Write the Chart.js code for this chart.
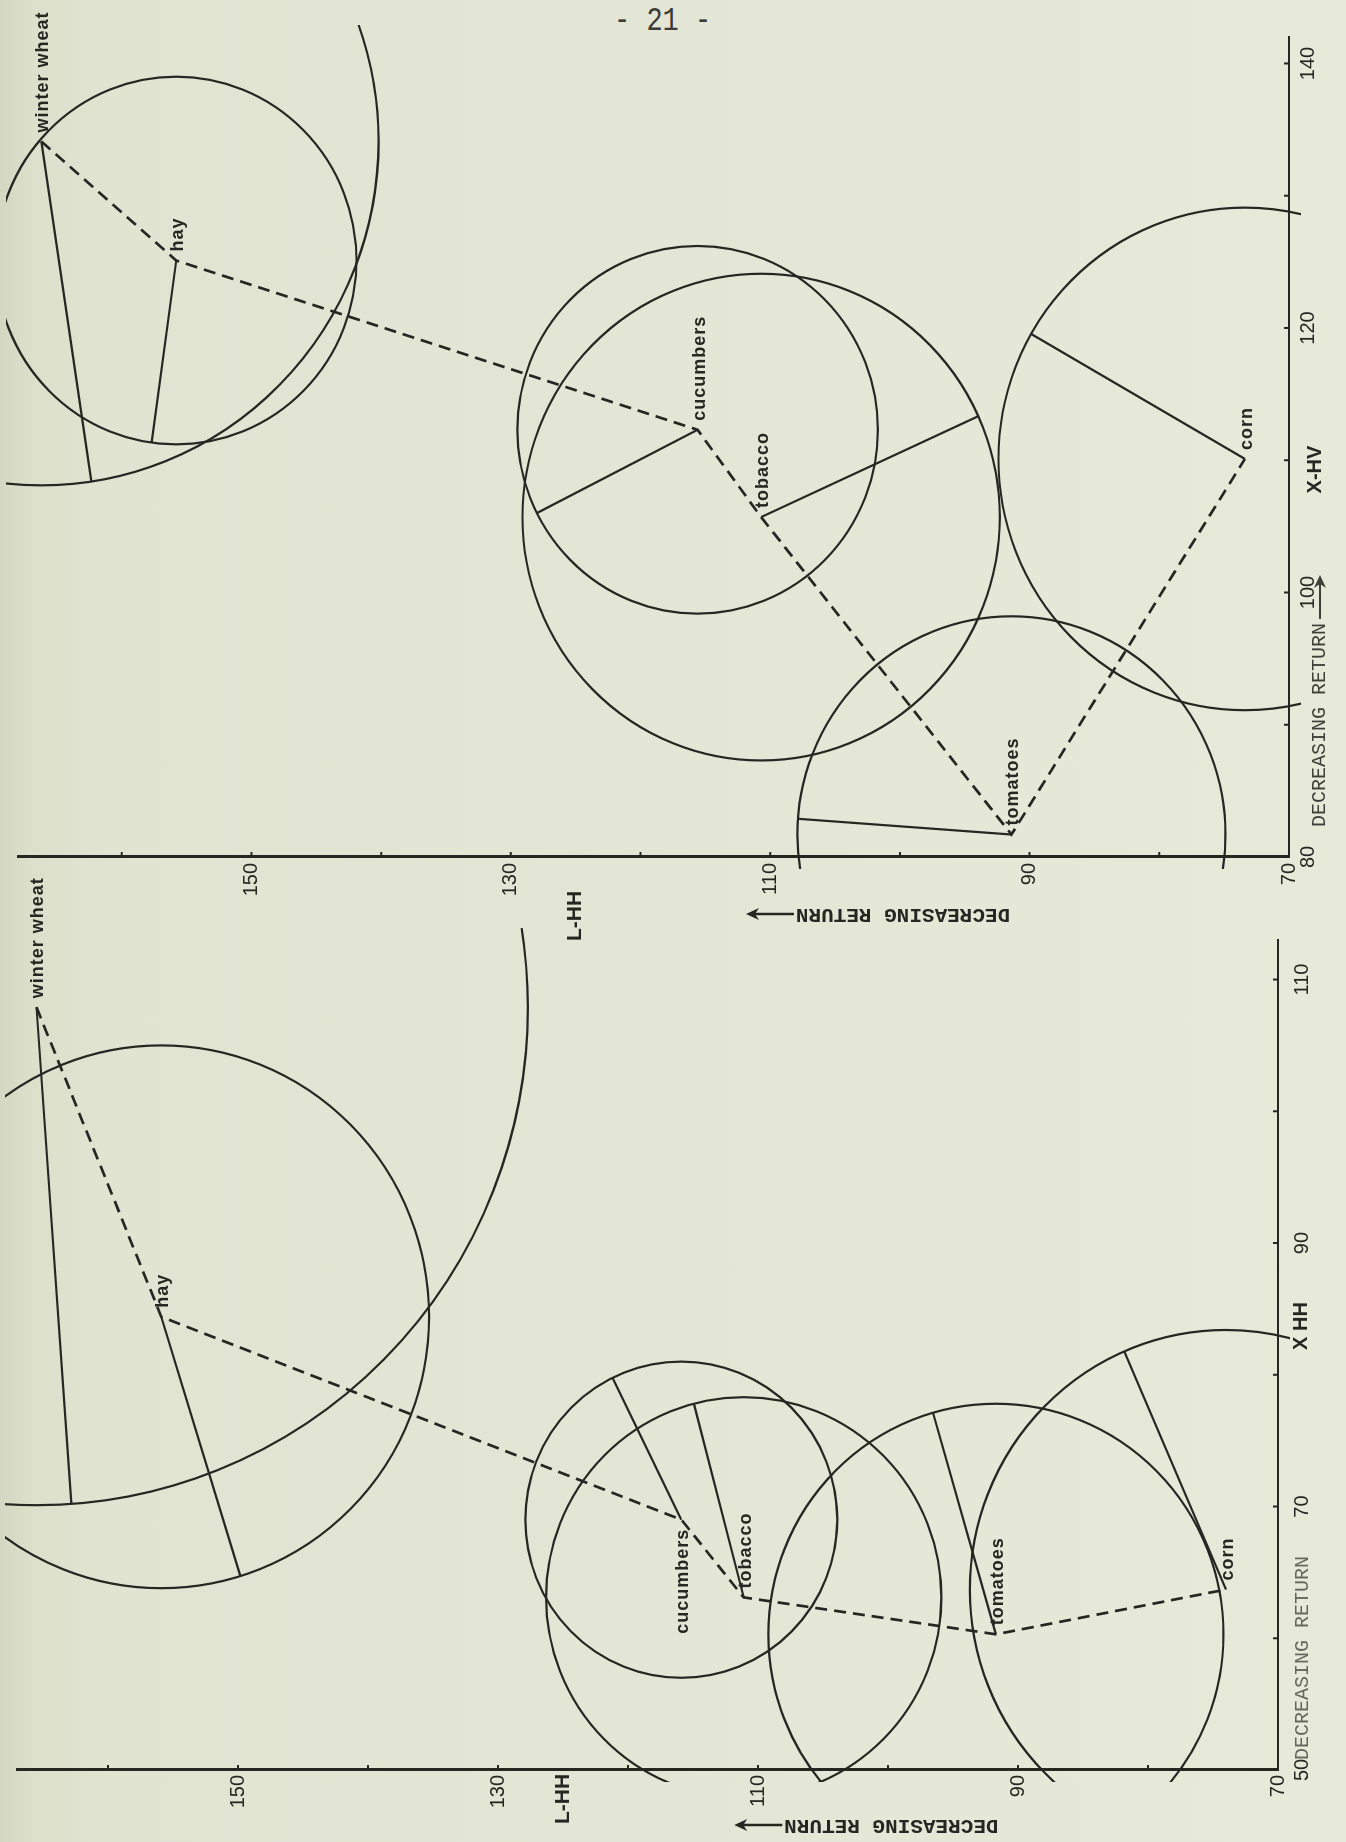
<!DOCTYPE html>
<html>
<head>
<meta charset="utf-8">
<title>Crop returns</title>
<script src="https://cdn.jsdelivr.net/npm/chart.js@4.4.1/dist/chart.umd.min.js"></script>
<style>
  html, body { margin: 0; padding: 0; }
  body {
    width: 1346px; height: 1842px; position: relative; overflow: hidden;
    background: linear-gradient(to right, #d4d8c2 0px, #dcdfca 30px, #e1e4d1 110px, #e4e6d5 600px, #e7e9d9 1346px);
  }
  #pageNo {
    position: absolute; left: 614px; top: 6px;
    font: 27px/1 "Liberation Mono", monospace; color: #3b3b37;
    transform: scaleY(1.2); transform-origin: 0 0; white-space: pre;
  }
  .panel { position: absolute; left: 0; height: 1346px; transform-origin: 0 0; }
  .panel canvas { display: block; }
</style>
</head>
<body>
<div id="pageNo">- 21 -</div>
<div class="panel" style="top:0; width:965px; transform: translateY(965px) rotate(-90deg);">
  <canvas id="hvChart" width="965" height="1346"></canvas>
</div>
<div class="panel" style="top:855px; width:987px; transform: translateY(987px) rotate(-90deg);">
  <canvas id="hhChart" width="987" height="1346"></canvas>
</div>
<script>
const crops = ['winter wheat', 'hay', 'cucumbers', 'tobacco', 'tomatoes', 'corn'];

// X-HV against L-HH
const hvX = [134.1, 125.1, 112.3, 105.7, 81.7, 110.1];
const hvY = [166.2, 155.8, 115.6, 110.7, 91.4, 73.4];
const hvRadius = [26.0, 13.9, 13.9, 18.4, 16.5, 19.0];
const hvSpokeX = [108.8, 111.3, 106.0, 113.4, 82.9, 119.5];
const hvSpokeY = [162.4, 157.7, 128.0, 93.8, 108.0, 89.8];

// X HH against L-HH
const hhX = [107.9, 84.4, 69.0, 63.1, 60.3, 63.7];
const hhY = [165.5, 155.9, 115.9, 111.1, 91.7, 74.0];
const hhRadius = [37.8, 20.6, 12.0, 15.2, 17.5, 19.7];
const hhSpokeX = [70.0, 65.0, 79.4, 77.7, 77.0, 81.7];
const hhSpokeY = [162.8, 149.9, 121.0, 114.9, 96.5, 81.8];

const hvTickLabels = [80, 100, 120, 140];
const hhTickLabels = [50, 70, 90, 110];
const lhhTickLabels = [70, 90, 110, 130, 150];

const INK = '#262623';
const SANS = '"Liberation Sans", Arial, sans-serif';
const MONO = '"Liberation Mono", "Courier New", monospace';

Chart.defaults.font.family = SANS;
Chart.defaults.font.size = 20;
Chart.defaults.color = INK;

function arrow(ctx, x1, y1, x2, y2) {
  const ang = Math.atan2(y2 - y1, x2 - x1);
  ctx.beginPath();
  ctx.moveTo(x1, y1);
  ctx.lineTo(x2 - 8 * Math.cos(ang), y2 - 8 * Math.sin(ang));
  ctx.stroke();
  ctx.beginPath();
  ctx.moveTo(x2, y2);
  ctx.lineTo(x2 - 13 * Math.cos(ang) + 6 * Math.sin(ang), y2 - 13 * Math.sin(ang) - 6 * Math.cos(ang));
  ctx.lineTo(x2 - 9 * Math.cos(ang), y2 - 9 * Math.sin(ang));
  ctx.lineTo(x2 - 13 * Math.cos(ang) - 6 * Math.sin(ang), y2 - 13 * Math.sin(ang) + 6 * Math.cos(ang));
  ctx.closePath();
  ctx.fill();
}

function makePanel(canvasId, p) {
  const path = p.xs.map((x, i) => ({ x: x, y: p.ys[i] }));

  // radius line from each crop to its own circle
  const spokes = p.xs.map((x, i) => {
    const dx = p.spokeX[i] - x, dy = p.spokeY[i] - p.ys[i];
    const k = p.radius[i] / Math.hypot(dx, dy);
    return {
      data: [{ x: x, y: p.ys[i] }, { x: x + dx * k, y: p.ys[i] + dy * k }],
      showLine: true, borderColor: INK, borderWidth: 2.2, pointRadius: 0
    };
  });

  const circles = {
    id: 'circles',
    beforeDatasetsDraw(chart) {
      const { ctx, chartArea: a, scales: { x, y } } = chart;
      const pad = 12;
      ctx.save();
      ctx.beginPath();
      ctx.rect(a.left - pad, a.top - pad, a.right - a.left + 2 * pad, a.bottom - a.top + 2 * pad);
      ctx.clip();
      ctx.strokeStyle = INK;
      ctx.lineWidth = 2.2;
      p.xs.forEach((cx, i) => {
        const px = x.getPixelForValue(cx), py = y.getPixelForValue(p.ys[i]);
        const rx = Math.abs(x.getPixelForValue(cx + p.radius[i]) - px);
        const ry = Math.abs(y.getPixelForValue(p.ys[i] + p.radius[i]) - py);
        ctx.beginPath();
        ctx.ellipse(px, py, rx, ry, 0, 0, Math.PI * 2);
        ctx.stroke();
      });
      ctx.restore();
    }
  };

  const notes = {
    id: 'notes',
    afterDraw(chart) {
      const { ctx, chartArea: a, scales: { x, y } } = chart;
      ctx.save();
      ctx.strokeStyle = INK;
      ctx.fillStyle = INK;

      // small ticks every 10 units, inside the axes
      ctx.lineWidth = 2;
      ctx.beginPath();
      for (let v = p.xMin; v <= p.xMax; v += 10) {
        const px = x.getPixelForValue(v);
        ctx.moveTo(px, a.bottom); ctx.lineTo(px, a.bottom - 5);
      }
      for (let v = p.yMin; v <= p.yMax; v += 10) {
        const py = y.getPixelForValue(v);
        ctx.moveTo(a.left, py); ctx.lineTo(a.left + 5, py);
      }
      ctx.stroke();

      // crop names
      ctx.font = 'bold 18px ' + SANS;
      ctx.letterSpacing = '1px';
      ctx.textBaseline = 'middle';
      crops.forEach((name, i) => {
        const px = x.getPixelForValue(p.xs[i]), py = y.getPixelForValue(p.ys[i]);
        const before = p.labelSide[i] === 'left';
        ctx.textAlign = before ? 'right' : 'left';
        ctx.fillText(name, px + (before ? -9 : 9), py + 2);
      });
      ctx.letterSpacing = '0px';

      // x axis name and note
      ctx.font = 'bold 20px ' + SANS;
      ctx.textAlign = 'center';
      ctx.textBaseline = 'top';
      ctx.fillText(p.xTitle, x.getPixelForValue(p.xTitleAt), a.bottom + p.xTitleGap);

      ctx.font = '20px ' + MONO;
      ctx.textAlign = 'left';
      ctx.textBaseline = 'middle';
      ctx.fillStyle = p.xNoteColor;
      ctx.strokeStyle = p.xNoteColor;
      const nx = a.left + p.xNoteStart, ny = a.bottom + p.xNoteGap;
      ctx.fillText('DECREASING RETURN', nx, ny);
      if (p.xNoteArrow) {
        const w = ctx.measureText('DECREASING RETURN').width;
        ctx.lineWidth = 2;
        arrow(ctx, nx + w + 4, ny, nx + w + 48, ny);
      }
      ctx.fillStyle = INK;
      ctx.strokeStyle = INK;

      // y axis name
      ctx.font = 'bold 21px ' + SANS;
      ctx.textAlign = 'center';
      ctx.fillText('L-HH', a.left - p.yTitleOffset, y.getPixelForValue(125));

      // y axis note, reading upwards
      ctx.save();
      ctx.translate(a.left - p.yNoteOffset, y.getPixelForValue(91.5));
      ctx.rotate(-Math.PI / 2);
      ctx.font = 'bold 21px ' + MONO;
      ctx.textAlign = 'left';
      ctx.textBaseline = 'middle';
      ctx.fillText('DECREASING RETURN', 0, 0);
      const wy = ctx.measureText('DECREASING RETURN').width;
      ctx.lineWidth = 2.5;
      arrow(ctx, wy + 2, 0, wy + 50, 0);
      ctx.restore();

      ctx.restore();
    }
  };

  new Chart(document.getElementById(canvasId), {
    type: 'scatter',
    data: {
      datasets: [{
        data: path, showLine: true, borderColor: INK, borderWidth: 2.7,
        borderDash: [12, 7], pointRadius: 0
      }].concat(spokes)
    },
    options: {
      responsive: false,
      animation: false,
      events: [],
      layout: { padding: { top: p.padTop, right: p.padRight, left: 0, bottom: 0 } },
      plugins: { legend: { display: false }, tooltip: { enabled: false } },
      scales: {
        x: {
          type: 'linear', min: p.xMin, max: p.xMax,
          grid: { display: false, drawTicks: false },
          border: { display: true, color: INK, width: 2 },
          afterFit: s => { s.height = p.xAxisHeight; },
          afterBuildTicks: s => { s.ticks = p.xLabels.map(v => ({ value: v })); },
          ticks: { padding: p.xTickPad, maxRotation: 0, autoSkip: false }
        },
        y: {
          type: 'linear', min: p.yMin, max: p.yMax,
          grid: { display: false, drawTicks: false },
          border: { display: true, color: INK, width: 3 },
          afterFit: s => { s.width = p.yAxisWidth; },
          afterBuildTicks: s => { s.ticks = lhhTickLabels.map(v => ({ value: v })); },
          ticks: { padding: p.yTickPad, autoSkip: false }
        }
      }
    },
    plugins: [circles, notes]
  });
}

makePanel('hvChart', {
  xs: hvX, ys: hvY, radius: hvRadius, spokeX: hvSpokeX, spokeY: hvSpokeY,
  labelSide: ['right', 'right', 'right', 'right', 'right', 'right'],
  xMin: 80, xMax: 142, yMin: 70, yMax: 168, xLabels: hvTickLabels,
  xTitle: 'X-HV', xTitleAt: 109.3,
  yAxisWidth: 108, xAxisHeight: 57, padTop: 9, padRight: 37,
  xTickPad: 7, yTickPad: 6, xTitleGap: 16,
  xNoteStart: 30, xNoteGap: 31, xNoteColor: '#3f3f3a', xNoteArrow: true,
  yTitleOffset: 59, yNoteOffset: 57
});

makePanel('hhChart', {
  xs: hhX, ys: hhY, radius: hhRadius, spokeX: hhSpokeX, spokeY: hhSpokeY,
  labelSide: ['right', 'right', 'left', 'right', 'right', 'right'],
  xMin: 50, xMax: 113, yMin: 70, yMax: 167, xLabels: hhTickLabels,
  xTitle: 'X HH', xTitleAt: 83.7,
  yAxisWidth: 72, xAxisHeight: 68, padTop: 7, padRight: 85,
  xTickPad: 12, yTickPad: 5, xTitleGap: 13,
  xNoteStart: 10, xNoteGap: 25, xNoteColor: '#66665f', xNoteArrow: false,
  yTitleOffset: 29, yNoteOffset: 55
});
</script>
</body>
</html>
